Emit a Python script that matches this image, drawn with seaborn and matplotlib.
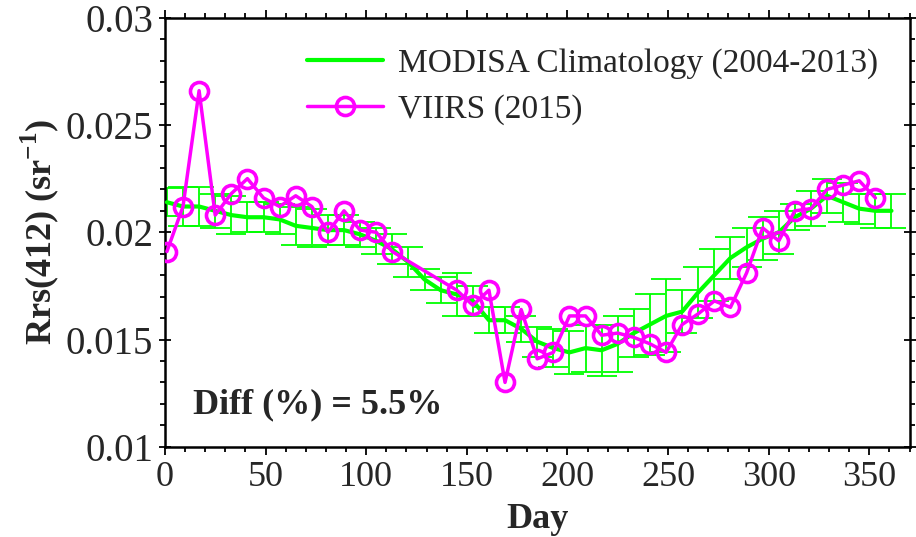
import numpy as np
import pandas as pd
import seaborn as sns
import matplotlib
matplotlib.use("Agg")
import matplotlib.pyplot as plt
from matplotlib.ticker import MultipleLocator, FuncFormatter

# 8-day composite periods (start day of year)
clim_days = [1, 9, 17, 25, 33, 41, 49, 57, 65, 73, 81, 89, 97, 105, 113, 121,
             129, 137, 145, 153, 161, 169, 177, 185, 193, 201, 209, 217, 225,
             233, 241, 249, 257, 265, 273, 281, 289, 297, 305, 313, 321, 329,
             337, 345, 353, 361]
clim_mean = [0.0214, 0.0212, 0.0212, 0.0210, 0.0208, 0.0207, 0.0207, 0.0206,
             0.0203, 0.0202, 0.0201, 0.0201, 0.0199, 0.0196, 0.0192, 0.0186,
             0.0178, 0.0173, 0.0171, 0.0168, 0.0159, 0.0159, 0.0155, 0.0149,
             0.0146, 0.0144, 0.0146, 0.0145, 0.0148, 0.0153, 0.0157, 0.0161,
             0.0163, 0.0172, 0.0180, 0.0188, 0.0193, 0.0197, 0.0200, 0.0207,
             0.0211, 0.0217, 0.0214, 0.0211, 0.0210, 0.0210]
clim_std = [0.00065, 0.0009, 0.0009, 0.0008, 0.0009, 0.0007, 0.0007, 0.0007,
            0.0009, 0.0009, 0.0007, 0.0007, 0.0006, 0.0006, 0.0007, 0.0007,
            0.0005, 0.0006, 0.0010, 0.0007, 0.0006, 0.0006, 0.0006, 0.0007,
            0.0009, 0.0010, 0.0011, 0.0012, 0.0013, 0.0011, 0.0014, 0.0017,
            0.0010, 0.0012, 0.0012, 0.0010, 0.0009, 0.0010, 0.0010, 0.0006,
            0.0008, 0.0008, 0.0009, 0.0007, 0.0008, 0.0008]

viirs_days = [1, 9, 17, 25, 33, 41, 49, 57, 65, 73, 81, 89, 97, 105, 113,
              145, 153, 161, 169, 177, 185, 193, 201, 209, 217, 225, 233, 241,
              249, 257, 265, 273, 281, 289, 297, 305, 313, 321, 329, 337, 345,
              353]
viirs_rrs = [0.0191, 0.0212, 0.0266, 0.0208, 0.0218, 0.0225, 0.0216, 0.0212,
             0.0217, 0.0212, 0.0200, 0.0210, 0.0201, 0.0200, 0.0191,
             0.0173, 0.0166, 0.0173, 0.0130, 0.0164, 0.0141, 0.0144, 0.0161,
             0.0161, 0.0152, 0.0153, 0.0151, 0.0148, 0.0144, 0.0157, 0.0162,
             0.0168, 0.0165, 0.0181, 0.0202, 0.0196, 0.0210, 0.0211, 0.0220,
             0.0222, 0.0224, 0.0216]

diff_text = "Diff (%) = 5.5%"

clim = pd.DataFrame({"Day": clim_days, "Rrs": clim_mean, "std": clim_std})
viirs = pd.DataFrame({"Day": viirs_days, "Rrs": viirs_rrs})

sns.set_theme(style="ticks")
plt.rcParams["font.family"] = ["Liberation Serif", "DejaVu Serif"]
plt.rcParams["mathtext.fontset"] = "custom"
plt.rcParams["mathtext.rm"] = "Liberation Serif"
plt.rcParams["mathtext.bf"] = "Liberation Serif:bold"

GREEN = "#00ff00"
MAGENTA = "#ff00ff"

fig = plt.figure(figsize=(9.16, 5.37), dpi=100)
ax = fig.add_axes([0.18, 0.168, 0.813, 0.799])

# climatology standard deviation bars
ax.errorbar(clim["Day"], clim["Rrs"], yerr=clim["std"], fmt="none",
            ecolor=GREEN, elinewidth=1.3, capsize=11, capthick=1.3, zorder=2)
sns.lineplot(data=clim, x="Day", y="Rrs", ax=ax, color=GREEN, linewidth=3,
             label="MODISA Climatology (2004-2013)", zorder=3)
sns.lineplot(data=viirs, x="Day", y="Rrs", ax=ax, color=MAGENTA, linewidth=2.5,
             marker="o", markersize=13, markerfacecolor="none",
             markeredgecolor=MAGENTA, markeredgewidth=2.6,
             label="VIIRS (2015)", zorder=4)

ax.set_xlim(0, 370)
ax.set_ylim(0.01, 0.03)
ax.xaxis.set_major_locator(MultipleLocator(50))
ax.xaxis.set_minor_locator(MultipleLocator(10))
ax.yaxis.set_major_locator(MultipleLocator(0.005))
ax.yaxis.set_minor_locator(MultipleLocator(0.001))
ax.yaxis.set_major_formatter(FuncFormatter(
    lambda v, p: f"{v:.3f}".rstrip("0") if v else "0"))

for s in ax.spines.values():
    s.set_linewidth(1.8)
    s.set_color("black")
    s.set_visible(True)

ax.tick_params(which="both", direction="out", top=True, right=True,
               color="black", width=1.3, labelsize=26, pad=4)
ax.tick_params(axis="y", labelsize=28)
ax.tick_params(which="major", length=6)
ax.tick_params(which="minor", length=3.5)
ax.tick_params(axis="y", which="major", direction="inout", length=9)

ax.set_xlabel("Day", fontsize=26, fontweight="bold")
ax.set_ylabel(r"Rrs(412) (sr$^{\mathbf{-1}}$)", fontsize=26,
              fontweight="bold")
ax.xaxis.set_label_coords(0.5, -0.13)
ax.yaxis.set_label_coords(-0.14, 0.5)

ax.text(0.038, 0.098, diff_text, transform=ax.transAxes, fontsize=26,
        fontweight="bold", va="center", ha="left")

leg = ax.legend(loc="upper right", bbox_to_anchor=(0.985, 0.975),
                frameon=False, fontsize=24, handlelength=2.3,
                handletextpad=0.45, labelspacing=0.45, borderaxespad=0.2)

fig.savefig("out.png", dpi=100)
